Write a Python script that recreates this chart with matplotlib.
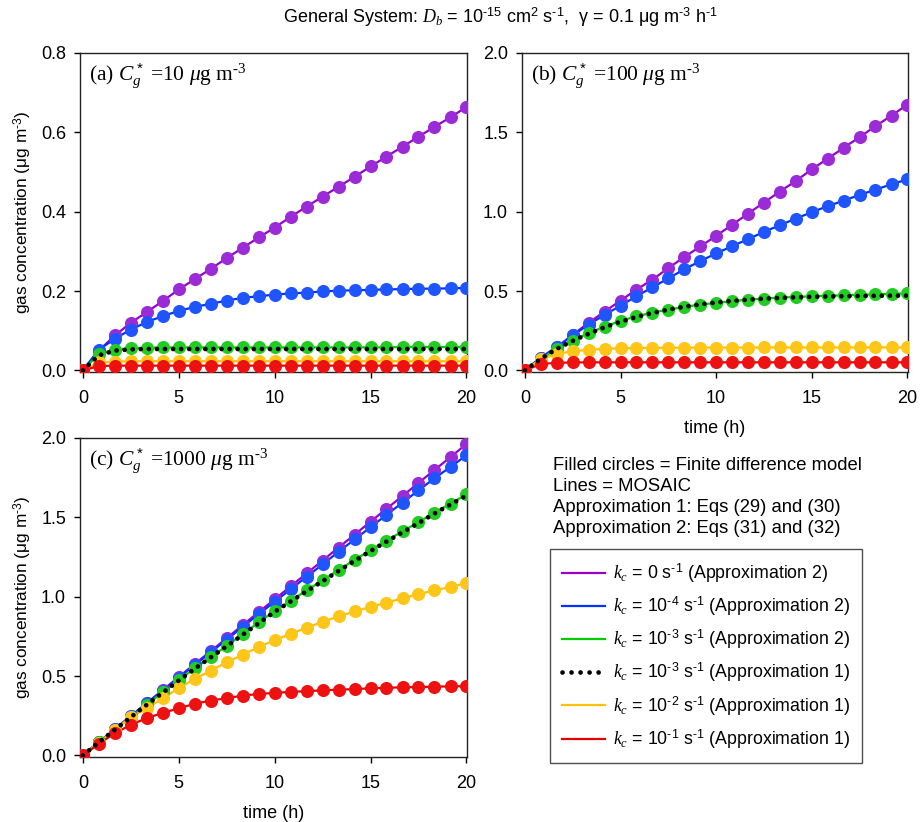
import numpy as np
import matplotlib
matplotlib.use("Agg")
import matplotlib.pyplot as plt
from matplotlib.lines import Line2D

plt.rcParams['font.family'] = ['Liberation Sans', 'DejaVu Sans']
plt.rcParams['mathtext.fontset'] = 'custom'
plt.rcParams['mathtext.rm'] = 'Liberation Sans'
plt.rcParams['mathtext.it'] = 'Liberation Serif:italic'
plt.rcParams['mathtext.bf'] = 'Liberation Sans:bold'

# time grid (h)
time_h = [0, 0.83, 1.67, 2.5, 3.33, 4.17, 5, 5.83, 6.67, 7.5, 8.33, 9.17, 10,
          10.83, 11.67, 12.5, 13.33, 14.17, 15, 15.83, 16.67, 17.5, 18.33, 19.17, 20]

# panel (a) C*g = 10
a_purple = [0, 0.050, 0.088, 0.120, 0.147, 0.175, 0.204, 0.230, 0.256, 0.283, 0.309, 0.335, 0.360,
            0.387, 0.413, 0.438, 0.463, 0.488, 0.514, 0.539, 0.564, 0.589, 0.614, 0.638, 0.664]
a_blue = [0, 0.052, 0.080, 0.103, 0.122, 0.137, 0.150, 0.160, 0.168, 0.176, 0.183, 0.187, 0.191,
          0.194, 0.196, 0.199, 0.201, 0.202, 0.203, 0.204, 0.205, 0.206, 0.206, 0.207, 0.208]
a_green = [0, 0.042, 0.052, 0.056, 0.057, 0.058, 0.058, 0.058, 0.058, 0.058, 0.058, 0.058, 0.058,
           0.058, 0.058, 0.058, 0.058, 0.058, 0.058, 0.058, 0.059, 0.059, 0.059, 0.059, 0.059]
a_black = [0, 0.038, 0.050, 0.053, 0.054, 0.054, 0.054, 0.054, 0.054, 0.054, 0.054, 0.054, 0.054,
           0.054, 0.054, 0.054, 0.054, 0.054, 0.054, 0.054, 0.054, 0.054, 0.054, 0.054, 0.054]
a_yellow = [0, 0.020, 0.022, 0.023, 0.023, 0.023, 0.023, 0.023, 0.023, 0.023, 0.023, 0.023, 0.023,
            0.023, 0.023, 0.023, 0.023, 0.023, 0.023, 0.023, 0.023, 0.023, 0.023, 0.023, 0.023]
a_red = [0, 0.011, 0.012, 0.012, 0.012, 0.012, 0.012, 0.012, 0.012, 0.012, 0.012, 0.012, 0.012,
         0.012, 0.012, 0.012, 0.012, 0.012, 0.012, 0.012, 0.012, 0.012, 0.012, 0.012, 0.012]

# panel (b) C*g = 100
b_purple = [0, 0.080, 0.147, 0.224, 0.300, 0.371, 0.440, 0.509, 0.572, 0.645, 0.714, 0.781, 0.848,
            0.917, 0.988, 1.058, 1.127, 1.194, 1.267, 1.334, 1.403, 1.470, 1.539, 1.606, 1.675]
b_blue = [0, 0.080, 0.147, 0.220, 0.289, 0.350, 0.408, 0.467, 0.524, 0.580, 0.637, 0.689, 0.737,
          0.783, 0.827, 0.873, 0.915, 0.957, 0.997, 1.035, 1.070, 1.106, 1.139, 1.173, 1.204]
b_green = [0, 0.073, 0.136, 0.188, 0.235, 0.276, 0.312, 0.341, 0.364, 0.383, 0.400, 0.415, 0.425,
           0.436, 0.446, 0.452, 0.459, 0.463, 0.467, 0.471, 0.473, 0.477, 0.479, 0.482, 0.486]
b_black = [0, 0.073, 0.136, 0.186, 0.231, 0.272, 0.307, 0.337, 0.362, 0.383, 0.401, 0.416, 0.428,
           0.438, 0.446, 0.452, 0.457, 0.461, 0.464, 0.466, 0.468, 0.469, 0.470, 0.471, 0.471]
b_yellow = [0, 0.070, 0.105, 0.120, 0.130, 0.136, 0.139, 0.141, 0.142, 0.143, 0.143, 0.144, 0.144,
            0.144, 0.144, 0.145, 0.145, 0.145, 0.145, 0.145, 0.145, 0.145, 0.145, 0.145, 0.145]
b_red = [0, 0.040, 0.048, 0.050, 0.051, 0.051, 0.051, 0.051, 0.051, 0.051, 0.051, 0.051, 0.051,
         0.051, 0.051, 0.051, 0.051, 0.051, 0.051, 0.051, 0.051, 0.051, 0.051, 0.051, 0.051]

# panel (c) C*g = 1000
c_purple = [0, 0.083, 0.166, 0.248, 0.330, 0.412, 0.494, 0.576, 0.657, 0.739, 0.821, 0.903, 0.984,
            1.065, 1.147, 1.228, 1.310, 1.391, 1.473, 1.554, 1.635, 1.717, 1.798, 1.880, 1.962]
c_blue = [0, 0.083, 0.165, 0.247, 0.328, 0.409, 0.490, 0.570, 0.650, 0.730, 0.810, 0.890, 0.968,
          1.047, 1.126, 1.204, 1.283, 1.361, 1.438, 1.516, 1.593, 1.670, 1.746, 1.818, 1.891]
c_green = [0, 0.082, 0.162, 0.242, 0.320, 0.398, 0.475, 0.548, 0.620, 0.690, 0.765, 0.838, 0.911,
           0.975, 1.040, 1.103, 1.168, 1.232, 1.294, 1.353, 1.412, 1.470, 1.530, 1.587, 1.644]
c_black = [0, 0.082, 0.162, 0.241, 0.319, 0.396, 0.472, 0.546, 0.618, 0.688, 0.760, 0.833, 0.905,
           0.970, 1.035, 1.098, 1.162, 1.226, 1.288, 1.347, 1.406, 1.464, 1.524, 1.581, 1.638]
c_yellow = [0, 0.080, 0.160, 0.241, 0.298, 0.360, 0.425, 0.482, 0.535, 0.586, 0.635, 0.682, 0.727,
            0.766, 0.805, 0.842, 0.876, 0.907, 0.936, 0.963, 0.990, 1.016, 1.040, 1.062, 1.085]
c_red = [0, 0.073, 0.140, 0.193, 0.235, 0.268, 0.297, 0.325, 0.346, 0.360, 0.377, 0.387, 0.394,
         0.400, 0.405, 0.410, 0.414, 0.418, 0.423, 0.426, 0.429, 0.431, 0.433, 0.435, 0.436]

line_colors = ['#9900CC', '#0033FF', '#00CC00', '#FFC000', '#E80000']
marker_colors = ['#9A2BD6', '#1F55FF', '#22CC22', '#FFC61A', '#EE1111']

# short hyphen for superscripts, like the original
HY = '\u2010'

def sup(s):
    return r'$^{\mathregular{' + s.replace('-', HY) + r'}}$'

legend_labels = [
    r'$k_c$ = 0 s' + sup('-1') + ' (Approximation 2)',
    r'$k_c$ = 10' + sup('-4') + ' s' + sup('-1') + ' (Approximation 2)',
    r'$k_c$ = 10' + sup('-3') + ' s' + sup('-1') + ' (Approximation 2)',
    r'$k_c$ = 10' + sup('-3') + ' s' + sup('-1') + ' (Approximation 1)',
    r'$k_c$ = 10' + sup('-2') + ' s' + sup('-1') + ' (Approximation 1)',
    r'$k_c$ = 10' + sup('-1') + ' s' + sup('-1') + ' (Approximation 1)',
]

panels = [
    ('a', [a_purple, a_blue, a_green, a_yellow, a_red], a_black, 0.8, [0.0, 0.2, 0.4, 0.6, 0.8],
     r'(a) $C_g^*$ =10 $\mu$g m' + sup('-3')),
    ('b', [b_purple, b_blue, b_green, b_yellow, b_red], b_black, 2.0, [0.0, 0.5, 1.0, 1.5, 2.0],
     r'(b) $C_g^*$ =100 $\mu$g m' + sup('-3')),
    ('c', [c_purple, c_blue, c_green, c_yellow, c_red], c_black, 2.0, [0.0, 0.5, 1.0, 1.5, 2.0],
     r'(c) $C_g^*$ =1000 $\mu$g m' + sup('-3')),
]

W, H = 921, 822
fig = plt.figure(figsize=(W / 100, H / 100), dpi=100)
boxes = {
    'a': [80 / W, 1 - 372 / H, 387 / W, 319 / H],
    'b': [522 / W, 1 - 372 / H, 386 / W, 319 / H],
    'c': [80 / W, 1 - 757 / H, 387 / W, 319 / H],
}

dot_style = (0, (0.01, 1.7))

for key, series, black, ymax, yticks, label in panels:
    ax = fig.add_axes(boxes[key])
    # MOSAIC lines
    for vals, lc in zip(series, line_colors):
        ax.plot(time_h, vals, color=lc, lw=1.6, zorder=2)
    # finite difference model circles
    for vals, mc in zip(series, marker_colors):
        ax.plot(time_h, vals, ls='none', marker='o', ms=8.4, mfc=mc, mec=mc, zorder=3)
    # approximation 1, kc = 1e-3
    ax.plot(time_h, black, color='black', lw=3.4, ls=dot_style, dash_capstyle='round', zorder=4)

    ax.set_xlim(-0.15, 20.03)
    ax.set_ylim(-ymax * 0.005, ymax)
    ax.set_xticks([0, 5, 10, 15, 20])
    ax.set_yticks(yticks)
    ax.set_yticklabels([f'{v:.1f}' for v in yticks])
    ax.tick_params(direction='out', length=4, width=1, labelsize=13)
    ax.tick_params(axis='x', pad=9)
    ax.tick_params(axis='y', pad=6)
    for sp in ax.spines.values():
        sp.set_linewidth(1.0)
        sp.set_color('#222222')
    ax.text(0.023, 0.975, label, transform=ax.transAxes, ha='left', va='top',
            fontsize=15.5, family='Liberation Serif')
    if key in ('a', 'c'):
        ax.set_ylabel('gas concentration (μg m' + sup('-3') + ')', fontsize=12.4, labelpad=5)
    if key in ('b', 'c'):
        ax.set_xlabel('time (h)', fontsize=13, labelpad=9)

fig.text(501 / W, 1 - 17 / H,
         r'General System: $D_b$ = 10' + sup('-15') + ' cm' + sup('2') + ' s' + sup('-1') + ',  '
         'γ = 0.1 μg m' + sup('-3') + ' h' + sup('-1'),
         ha='center', va='center', fontsize=13)

fig.text(553 / W, 1 - 457 / H,
         'Filled circles = Finite difference model\nLines = MOSAIC\n'
         'Approximation 1: Eqs (29) and (30)\nApproximation 2: Eqs (31) and (32)',
         ha='left', va='top', fontsize=13.3, linespacing=1.3)

handles = [
    Line2D([], [], color=line_colors[0], lw=1.6),
    Line2D([], [], color=line_colors[1], lw=1.6),
    Line2D([], [], color=line_colors[2], lw=1.6),
    Line2D([], [], color='black', lw=3.4, ls=(0, (0.01, 1.9)), dash_capstyle='round'),
    Line2D([], [], color=line_colors[3], lw=1.6),
    Line2D([], [], color=line_colors[4], lw=1.6),
]
leg = fig.legend(handles, legend_labels, loc='upper left', bbox_to_anchor=(550 / W, 1 - 549 / H),
                 borderaxespad=0, frameon=True, fancybox=False, fontsize=12.8,
                 handlelength=2.4, handletextpad=0.45, labelspacing=0.55, borderpad=0.7)
leg.get_frame().set_edgecolor('#222222')
leg.get_frame().set_linewidth(1.0)

fig.savefig('out.png', dpi=100)
